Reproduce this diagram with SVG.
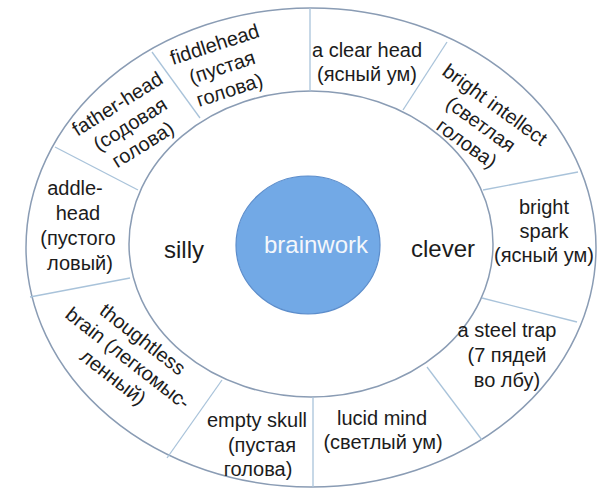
<svg xmlns="http://www.w3.org/2000/svg" width="605" height="490" viewBox="0 0 605 490">
<style>
  .ring { fill: none; stroke: #8a9cb4; stroke-width: 1.5; }
  .div { stroke: #a9c3da; stroke-width: 1.3; fill: none; }
  .t { font-family: "Liberation Sans", Arial, sans-serif; font-size: 20px; fill: #1c1c1c; text-anchor: middle; }
  .big { font-family: "Liberation Sans", Arial, sans-serif; font-size: 24px; fill: #1c1c1c; text-anchor: middle; }
  .core { fill: #72a9e6; stroke: #5c8dcb; stroke-width: 1.2; }
  .coret { font-family: "Liberation Sans", Arial, sans-serif; font-size: 24px; fill: #f4f7fb; text-anchor: middle; }
</style>
<rect width="605" height="490" fill="#ffffff"/>
<g id="outer-ring">
  <ellipse class="ring" cx="311" cy="247.5" rx="285" ry="239.5"/>
  <ellipse class="ring" cx="311" cy="244" rx="182" ry="153"/>
</g>
<g id="connectors">
  <line class="div" x1="310" y1="8" x2="310" y2="91"/>
  <line class="div" x1="447" y1="42" x2="403" y2="110"/>
  <line class="div" x1="578" y1="172" x2="483" y2="190"/>
  <line class="div" x1="482" y1="298" x2="577" y2="322"/>
  <line class="div" x1="427" y1="367" x2="482" y2="440"/>
  <line class="div" x1="313" y1="397" x2="313" y2="487"/>
  <line class="div" x1="222" y1="380" x2="167" y2="458"/>
  <line class="div" x1="130" y1="278" x2="30" y2="297"/>
  <line class="div" x1="55" y1="147" x2="138" y2="190"/>
  <line class="div" x1="152" y1="52" x2="200" y2="118"/>
</g>
<g id="brainwork">
  <ellipse class="core" cx="308" cy="245" rx="72" ry="69"/>
  <text class="coret" x="316" y="253">brainwork</text>
</g>
<g id="silly">
  <text class="big" x="184" y="258">silly</text>
</g>
<g id="clever">
  <text class="big" x="443" y="257">clever</text>
</g>
<g id="a-clear-head">
  <text class="t" x="367" y="57">a clear head</text>
  <text class="t" x="367" y="81">(ясный ум)</text>
</g>
<g id="bright-intellect" transform="translate(481,124) rotate(36)">
  <text class="t" x="0" y="-17">bright intellect</text>
  <text class="t" x="0" y="7">(светлая</text>
  <text class="t" x="0" y="31">голова)</text>
</g>
<g id="bright-spark">
  <text class="t" x="544" y="214">bright</text>
  <text class="t" x="544" y="238">spark</text>
  <text class="t" x="544" y="262">(ясный ум)</text>
</g>
<g id="a-steel-trap">
  <text class="t" x="507" y="337">a steel trap</text>
  <text class="t" x="507" y="362">(7 пядей</text>
  <text class="t" x="507" y="387">во лбу)</text>
</g>
<g id="lucid-mind">
  <text class="t" x="382" y="425">lucid mind</text>
  <text class="t" x="383" y="449">(светлый ум)</text>
</g>
<g id="empty-skull">
  <text class="t" x="257" y="427">empty skull</text>
  <text class="t" x="262" y="452">(пустая</text>
  <text class="t" x="258" y="476">голова)</text>
</g>
<g id="thoughtless-brain" transform="translate(128,358) rotate(38)">
  <text class="t" x="0" y="-17">thoughtless</text>
  <text class="t" x="0" y="7">brain (легкомыс-</text>
  <text class="t" x="0" y="31">ленный)</text>
</g>
<g id="addle-head">
  <text class="t" x="75" y="195">addle-</text>
  <text class="t" x="78" y="220">head</text>
  <text class="t" x="78" y="245">(пустого</text>
  <text class="t" x="80" y="270">ловый)</text>
</g>
<g id="father-head" transform="translate(130,124) rotate(-32)">
  <text class="t" x="0" y="-17">father-head</text>
  <text class="t" x="0" y="7">(содовая</text>
  <text class="t" x="0" y="31">голова)</text>
</g>
<g id="fiddlehead" transform="translate(222,67) rotate(-18)">
  <text class="t" x="0" y="-17">fiddlehead</text>
  <text class="t" x="0" y="7">(пустая</text>
  <text class="t" x="0" y="31">голова)</text>
</g>
</svg>
